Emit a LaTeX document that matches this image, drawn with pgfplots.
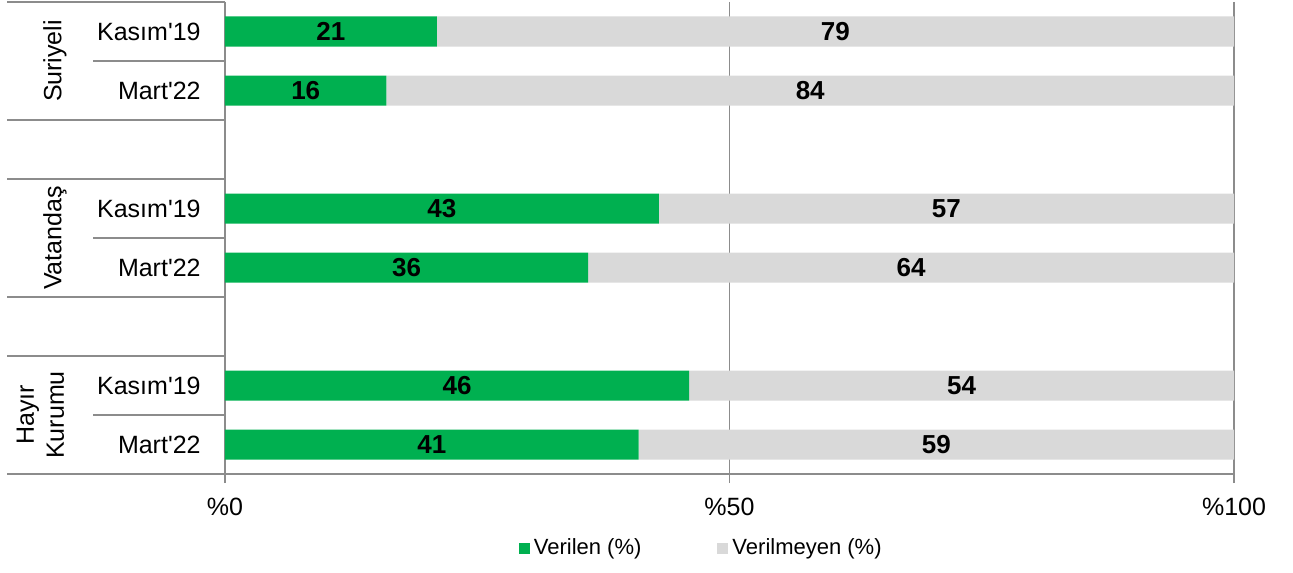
\documentclass[border=0pt]{standalone}
\usepackage{fontspec}
\setmainfont{Liberation Sans}[Ligatures=TeXOff]
\usepackage{pgfplots}
\pgfplotsset{compat=1.18}
\definecolor{verilen}{HTML}{00B050}
\definecolor{verilmeyen}{HTML}{D9D9D9}
\definecolor{cizgi}{HTML}{8C8C8C}
\newcommand\fs{\fontsize{12.5}{15}\selectfont}

\begin{document}
\begin{tikzpicture}
\begin{axis}[
  scale only axis, width=504.5pt, height=236pt,
  xbar stacked, bar width=15pt,
  xmin=0, xmax=100, ymin=0, ymax=8, y dir=reverse,
  axis x line*=bottom, axis y line*=left,
  axis line style={cizgi, line width=0.7pt},
  xtick={0,50,100}, xticklabels={\%0,\%50,\%100},
  xmajorgrids, grid style={cizgi, line width=0.7pt},
  tick align=outside, major tick length=4.5pt,
  xtick style={cizgi, line width=0.7pt},
  ytick={0.5,1.5,3.5,4.5,6.5,7.5},
  yticklabels={Kasım'19,Mart'22,Kasım'19,Mart'22,Kasım'19,Mart'22},
  ytick style={draw=none},
  yticklabel style={font=\fs, anchor=east, inner sep=0pt, xshift=-7.5pt},
  xticklabel style={font=\fs, yshift=-4pt},
  clip=false,
  point meta=rawx,
  nodes near coords={\pgfmathprintnumber[assume math mode=true]{\pgfplotspointmeta}},
  every node near coord/.append style={font=\fontsize{13}{15}\selectfont\bfseries, anchor=center},
  legend style={at={(0.473,-0.157)}, anchor=center, draw=none,
    legend columns=2, font=\fontsize{11}{13}\selectfont,
    /tikz/every even column/.append style={column sep=36pt}},
  legend image code/.code={\fill[#1] (0pt,-2.75pt) rectangle (5.5pt,2.75pt);},
]
\addplot[fill=verilen, draw=none] coordinates {
  (21,0.5) (16,1.5) (43,3.5) (36,4.5) (46,6.5) (41,7.5)};
\addplot[fill=verilmeyen, draw=none] coordinates {
  (79,0.5) (84,1.5) (57,3.5) (64,4.5) (54,6.5) (59,7.5)};
\legend{Verilen (\%), Verilmeyen (\%)}

% category table at the left
\draw[cizgi, line width=0.7pt] (axis cs:-21.6,0) -- (axis cs:0,0)
  (axis cs:-21.6,2) -- (axis cs:0,2)
  (axis cs:-21.6,3) -- (axis cs:0,3)
  (axis cs:-21.6,5) -- (axis cs:0,5)
  (axis cs:-21.6,6) -- (axis cs:0,6)
  (axis cs:-21.6,8) -- (axis cs:0,8)
  (axis cs:-13.08,1) -- (axis cs:0,1)
  (axis cs:-13.08,4) -- (axis cs:0,4)
  (axis cs:-13.08,7) -- (axis cs:0,7);
\node[rotate=90, font=\fs] at (axis cs:-16.85,1) {Suriyeli};
\node[rotate=90, font=\fs] at (axis cs:-16.85,4) {Vatandaş};
\node[rotate=90, font=\fs, align=center] at (axis cs:-18.3,7) {Hayır\\Kurumu};
\end{axis}
\pgfresetboundingbox
\path[use as bounding box] (-112.5pt,-49pt) rectangle (534pt,237pt);
\end{tikzpicture}
\end{document}
